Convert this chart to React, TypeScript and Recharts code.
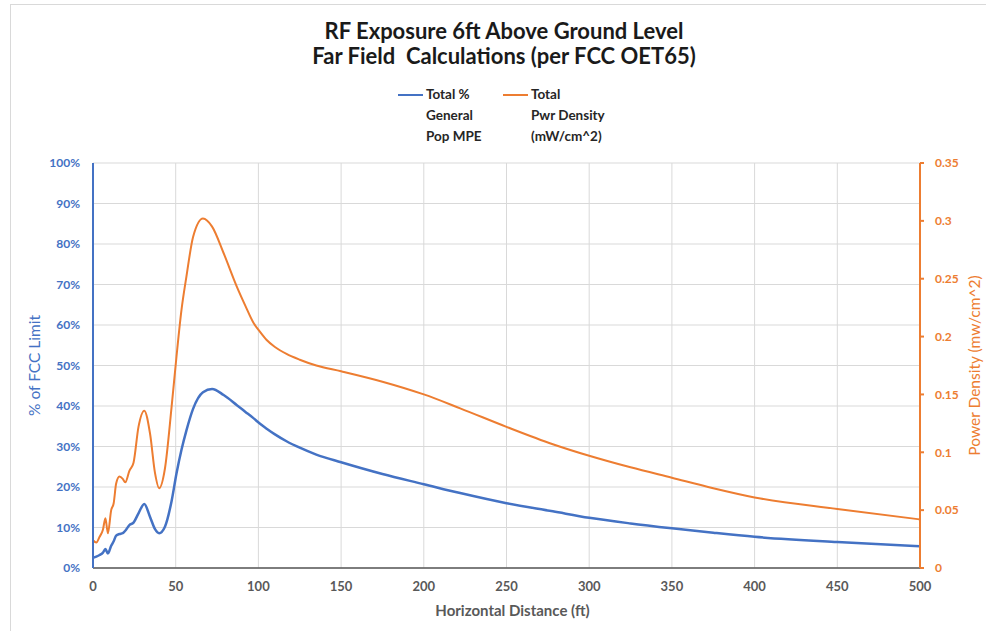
import React from 'react';
import { LineChart, Line, XAxis, YAxis, CartesianGrid, Label } from 'recharts';

document.body.style.margin = '0';

const distance = [
  0, 2, 4, 6, 7.5, 9, 11, 12.5, 14, 16, 18, 19.5, 22, 24.5, 27.5, 31, 34.5, 37.5, 40, 43.5,
  47.5, 50.5, 53.5, 56.5, 60.5, 66.5, 72, 79, 87, 92, 97, 101, 105, 110, 117, 125, 135, 150,
  175, 200, 222, 250, 278, 300, 325, 350, 375, 400, 450, 500,
];

// Total % General Pop MPE (percent)
const mpe = [
  2.5, 2.8, 3.2, 3.8, 4.7, 3.6, 5.5, 6.6, 8.0, 8.4, 8.6, 9.2, 10.6, 11.2, 13.5, 15.8, 12.6, 9.6, 8.6, 10.2,
  16.5, 23.4, 29.2, 34.0, 39.3, 43.4, 44.2, 42.7, 40.2, 38.6, 37.0, 35.6, 34.4, 33.0, 31.3, 29.7, 28.0, 26.1,
  23.2, 20.7, 18.5, 16.0, 14.0, 12.4, 11.0, 9.8, 8.7, 7.7, 6.4, 5.4,
];

// Total Pwr Density (mW/cm^2)
const density = [
  0.024, 0.022, 0.027, 0.033, 0.043, 0.03, 0.05, 0.056, 0.073, 0.079, 0.077, 0.074, 0.084, 0.091, 0.122, 0.136,
  0.116, 0.082, 0.069, 0.086, 0.139, 0.183, 0.223, 0.252, 0.286, 0.302, 0.295, 0.272, 0.243, 0.227, 0.212, 0.204,
  0.197, 0.191, 0.185, 0.18, 0.175, 0.17, 0.161, 0.15, 0.138, 0.122, 0.107, 0.097, 0.087, 0.078, 0.069, 0.061,
  0.051, 0.042,
];

const xTicks = [0, 50, 100, 150, 200, 250, 300, 350, 400, 450, 500];
const pctTicks = [0, 10, 20, 30, 40, 50, 60, 70, 80, 90, 100];
const densityTicks = [0, 0.05, 0.1, 0.15, 0.2, 0.25, 0.3, 0.35];

const data = distance.map((d, i) => ({ distance: d, mpe: mpe[i], density: density[i] }));

const FONT = 'Lato, "Open Sans", sans-serif';
const BLUE = '#4472C4';
const ORANGE = '#ED7D31';

function LegendItem({ color, lines, left }: { color: string; lines: string[]; left: number }) {
  return (
    <div style={{ position: 'absolute', left, top: 84, display: 'flex' }}>
      <div style={{ width: 25, height: 2, background: color, marginTop: 10, marginRight: 3 }} />
      <div style={{ fontSize: 13.5, fontWeight: 700, lineHeight: '21px', color: '#262626' }}>
        {lines.map((l) => (
          <div key={l}>{l}</div>
        ))}
      </div>
    </div>
  );
}

export default function App() {
  return (
    <div style={{ position: 'relative', width: 986, height: 631, fontFamily: FONT, background: '#fff', overflow: 'hidden' }}>
      <div style={{ position: 'absolute', left: 10, top: 4, width: 1000, height: 700, borderLeft: '1px solid #D9D9D9', borderTop: '1px solid #D9D9D9' }} />
      <div
        style={{
          position: 'absolute',
          left: 254,
          width: 500,
          top: 18,
          textAlign: 'center',
          fontSize: 22,
          fontWeight: 700,
          lineHeight: '25px',
          color: '#1a1a1a',
        }}
      >
        <div>RF Exposure 6ft Above Ground Level</div>
        <div style={{ whiteSpace: 'pre' }}>Far Field  Calculations (per FCC OET65)</div>
      </div>
      <LegendItem color={BLUE} lines={['Total %', 'General', 'Pop MPE']} left={398} />
      <LegendItem color={ORANGE} lines={['Total', 'Pwr Density', '(mW/cm^2)']} left={503} />
      <div style={{ position: 'absolute', left: 0, top: 0 }}>
        <LineChart width={986} height={631} data={data} margin={{ top: 163, right: 16, left: 8, bottom: 23 }}>
          <CartesianGrid yAxisId="left" stroke="#D9D9D9" strokeWidth={1} verticalValues={xTicks} />
          <XAxis
            dataKey="distance"
            type="number"
            domain={[0, 500]}
            ticks={xTicks}
            height={40}
            axisLine={{ stroke: '#595959', strokeWidth: 1.5 }}
            tickLine={false}
            tickSize={6}
            tickMargin={8}
            tick={{ fontSize: 13, fontWeight: 700, fill: '#595959', fontFamily: FONT }}
          >
            <Label
              content={({ viewBox }: any) => (
                <text
                  x={viewBox.x + viewBox.width / 2 + 6}
                  y={616}
                  textAnchor="middle"
                  fontSize={15}
                  fontWeight={700}
                  fill="#595959"
                  fontFamily={FONT}
                >
                  Horizontal Distance (ft)
                </text>
              )}
            />
          </XAxis>
          <YAxis
            yAxisId="left"
            orientation="left"
            domain={[0, 100]}
            ticks={pctTicks}
            width={85}
            axisLine={{ stroke: BLUE, strokeWidth: 2 }}
            tickLine={false}
            tickSize={6}
            tickMargin={7}
            tickFormatter={(v) => `${v}%`}
            tick={{ fontSize: 12, fontWeight: 700, fill: BLUE, fontFamily: FONT }}
          >
            <Label
              content={({ viewBox }: any) => {
                const cx = 40;
                const cy = viewBox.y + viewBox.height / 2;
                return (
                  <text
                    x={cx}
                    y={cy}
                    transform={`rotate(-90, ${cx}, ${cy})`}
                    textAnchor="middle"
                    fontSize={15.5}
                    fill={BLUE}
                    fontFamily={FONT}
                  >
                    % of FCC Limit
                  </text>
                );
              }}
            />
          </YAxis>
          <YAxis
            yAxisId="right"
            orientation="right"
            domain={[0, 0.35]}
            ticks={densityTicks}
            width={50}
            axisLine={{ stroke: ORANGE, strokeWidth: 2 }}
            tickLine={{ stroke: ORANGE, strokeWidth: 2 }}
            tickSize={4}
            tickMargin={11}
            tickFormatter={(v) => String(Number(Number(v).toFixed(2)))}
            tick={{ fontSize: 12, fontWeight: 700, fill: ORANGE, fontFamily: FONT }}
          >
            <Label
              content={({ viewBox }: any) => {
                const cx = 980;
                const cy = viewBox.y + viewBox.height / 2;
                return (
                  <text
                    x={cx}
                    y={cy}
                    transform={`rotate(-90, ${cx}, ${cy})`}
                    textAnchor="middle"
                    fontSize={15.5}
                    fill={ORANGE}
                    fontFamily={FONT}
                  >
                    Power Density (mw/cm^2)
                  </text>
                );
              }}
            />
          </YAxis>
          <Line
            yAxisId="left"
            type="monotone"
            dataKey="mpe"
            stroke={BLUE}
            strokeWidth={2.5}
            dot={false}
            isAnimationActive={false}
          />
          <Line
            yAxisId="right"
            type="monotone"
            dataKey="density"
            stroke={ORANGE}
            strokeWidth={2}
            dot={false}
            isAnimationActive={false}
          />
        </LineChart>
      </div>
    </div>
  );
}
